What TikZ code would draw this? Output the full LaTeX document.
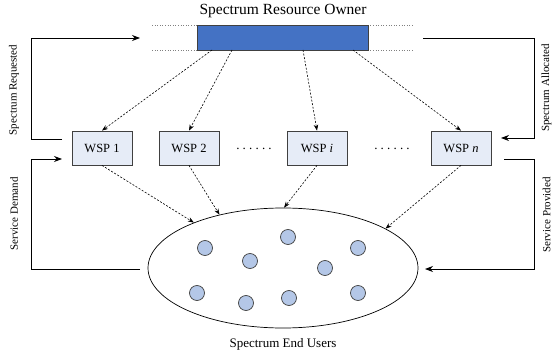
\documentclass[tikz,border=0pt]{standalone}
\usepackage{fontspec}
\setmainfont{Liberation Serif}
\usetikzlibrary{arrows.meta,shapes.geometric,calc}
\definecolor{ownerblue}{HTML}{4472C4}
\definecolor{wspfill}{HTML}{E6ECF7}
\definecolor{userfill}{HTML}{B4C7E7}
\definecolor{edgegray}{HTML}{404040}
\begin{document}
\begin{tikzpicture}[x=1pt,y=-1pt,
  wspbox/.style={draw=edgegray,fill=wspfill,line width=0.8pt,minimum width=60pt,minimum height=34pt,inner sep=0pt,font=\rmfamily\fontsize{12.5}{14}\selectfont},
  user/.style={circle,draw=edgegray,fill=userfill,line width=0.7pt,minimum size=15pt,inner sep=0pt},
  dasharrow/.style={dashed,dash pattern=on 2pt off 1.6pt,line width=0.6pt,-{Stealth[length=6pt,width=4.5pt]}},
  feed/.style={line width=0.8pt,-{Stealth[length=8pt,width=6pt]}},
  sidelabel/.style={rotate=90,font=\rmfamily\fontsize{11}{12}\selectfont},
  dotsrow/.style={font=\rmfamily\fontsize{13}{14}\selectfont,inner sep=0pt},
  guide/.style={dotted,line width=0.6pt,gray}
]
\useasboundingbox (0,0) rectangle (554,358);
% owner
\node[font=\rmfamily\fontsize{15.5}{18}\selectfont] (title) at (283,11) {Spectrum Resource Owner};
\draw[guide] (152,25) -- (413,25);
\draw[guide] (152,50) -- (413,50);
\node[draw=edgegray,fill=ownerblue,line width=0.8pt,minimum width=171pt,minimum height=25pt,inner sep=0pt] (owner) at (282.5,37.5) {};
% WSP boxes
\node[wspbox] (w1) at (102,148) {WSP 1};
\node[wspbox] (w2) at (189,148) {WSP 2};
\node[wspbox] (wi) at (317,148) {WSP \textit{i}};
\node[wspbox] (wn) at (461,148) {WSP \textit{n}};
\node[dotsrow,anchor=base] (d1) at (254,150) {.\hspace{3.2pt}.\hspace{3.2pt}.\hspace{3.2pt}.\hspace{3.2pt}.\hspace{3.2pt}.};
\node[dotsrow,anchor=base] (d2) at (392,150) {.\hspace{3.2pt}.\hspace{3.2pt}.\hspace{3.2pt}.\hspace{3.2pt}.\hspace{3.2pt}.};
% users
\node[ellipse,draw=black,line width=0.7pt,minimum width=270pt,minimum height=120pt,inner sep=0pt] (users) at (283,268) {};
\node[font=\rmfamily\fontsize{13}{15}\selectfont] (eu) at (283,344) {Spectrum End Users};
\foreach \n/\p in {u1/{(205,248)},u2/{(288,237)},u3/{(250,261)},u4/{(358,248)},u5/{(325,268)},u6/{(197,293)},u7/{(246,303)},u8/{(289,298)},u9/{(358,293)}}
  \node[user] (\n) at \p {};
% owner to WSP
\coordinate (o1) at (212,50);
\coordinate (o2) at (232,50);
\coordinate (o3) at (303,50);
\coordinate (o4) at (353,50);
\draw[dasharrow] (o1) -- (w1.north);
\draw[dasharrow] (o2) -- (w2.north);
\draw[dasharrow] (o3) -- (wi.north);
\draw[dasharrow] (o4) -- (wn.north);
% WSP to users
\draw[dasharrow] (w1.south) -- (users.153);
\draw[dasharrow] (w2.south) -- (users.140);
\draw[dasharrow] (wi.south) -- (users.89);
\draw[dasharrow] (wn.south) -- (users.21);
% feedback loops
\coordinate (rqs) at (62,139);
\coordinate (rqe) at (140,38);
\draw[feed] (rqs) -- (31,139) -- (31,38) -- (rqe);
\coordinate (sds) at (140,269);
\coordinate (sde) at (62,159);
\draw[feed] (sds) -- (31,269) -- (31,159) -- (sde);
\coordinate (sas) at (423,38);
\coordinate (sae) at (501,138);
\draw[feed] (sas) -- (534,38) -- (534,138) -- (sae);
\coordinate (sps) at (504,159);
\coordinate (spe) at (425,269);
\draw[feed] (sps) -- (534,159) -- (534,269) -- (spe);
% side labels
\node[sidelabel] (lsr) at (14,90) {Spectrum Requested};
\node[sidelabel] (lsd) at (14,214) {Service Demand};
\node[sidelabel] (lsa) at (546.5,88) {Spectrum Allocated};
\node[sidelabel] (lsp) at (546.5,215) {Service Provided};
\end{tikzpicture}
\end{document}
